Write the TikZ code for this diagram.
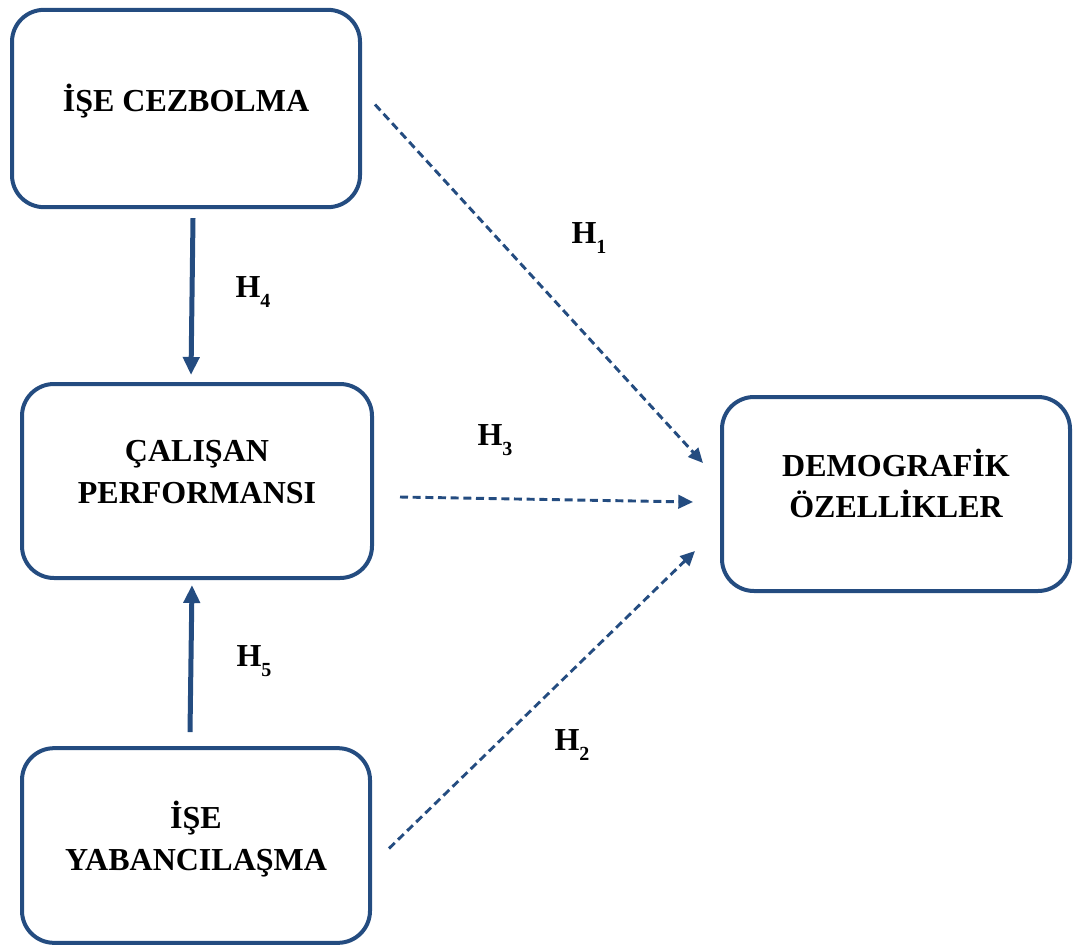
\documentclass[tikz,border=0pt]{standalone}
\usepackage{fontspec}
\setmainfont{Liberation Serif}
\usetikzlibrary{arrows.meta,calc}

\definecolor{boxblue}{RGB}{36,76,128}
\newcommand{\boxstrut}[1]{\rule[-#1]{0pt}{0pt}}
\newcommand{\hyp}[1]{H\raisebox{-7pt}{\fontsize{15}{15}\selectfont #1}}

\begin{document}
\begin{tikzpicture}[x=0.75pt,y=-0.75pt,
    box/.style={draw=boxblue,line width=3pt,rounded corners=24pt,align=center,
      font=\fontsize{24}{31}\selectfont\bfseries,inner sep=0pt},
    solidarrow/.style={boxblue,line width=3.75pt,-{Triangle[length=13.5pt,width=12pt]}},
    dasharrow/.style={boxblue,line width=2.2pt,dash pattern=on 6pt off 3.5pt,
      -{Triangle[length=11pt,width=10pt]}},
    hlabel/.style={font=\fontsize{24}{28}\selectfont\bfseries}]
    % Page frame
    \useasboundingbox (0,0) rectangle (1074,949);

    % Boxes
    \node[box,minimum width=261pt,minimum height=148pt] (cezbolma) at (186,108.5)
      {İŞE CEZBOLMA\boxstrut{16pt}};
    \node[box,minimum width=262.5pt,minimum height=145.5pt] (performans) at (197,481)
      {ÇALIŞAN\\PERFORMANSI\boxstrut{13.5pt}};
    \node[box,minimum width=261pt,minimum height=146pt] (yabanci) at (196,845.5)
      {İŞE\\YABANCILAŞMA\boxstrut{14.5pt}};
    \node[box,minimum width=261pt,minimum height=145.5pt] (demografik) at (896,494)
      {DEMOGRAFİK\\ÖZELLİKLER\boxstrut{16.5pt}};

    % Solid arrows
    \draw[solidarrow] ($(cezbolma.south)+(7,9)$) -- ($(performans.north)+(-6,-7)$);
    \draw[solidarrow] ($(yabanci.north)+(-6,-14)$) -- ($(performans.south)+(-5,5)$);

    % Dashed arrows
    \draw[dasharrow] ($(cezbolma.east)+(13,-4)$) -- ($(demografik.west)+(-17,-31)$);
    \draw[dasharrow] ($(performans.east)+(26,16)$) -- ($(demografik.west)+(-27,8)$);
    \draw[dasharrow] ($(yabanci.east)+(17,3)$) -- ($(demografik.west)+(-25,57)$);

    % Hypothesis labels
    \node[hlabel] (h1) at (589,238) {\hyp{1}};
    \node[hlabel] (h2) at (572,745) {\hyp{2}};
    \node[hlabel] (h3) at (495,440) {\hyp{3}};
    \node[hlabel] (h4) at (253,292) {\hyp{4}};
    \node[hlabel] (h5) at (254,661) {\hyp{5}};
\end{tikzpicture}
\end{document}
